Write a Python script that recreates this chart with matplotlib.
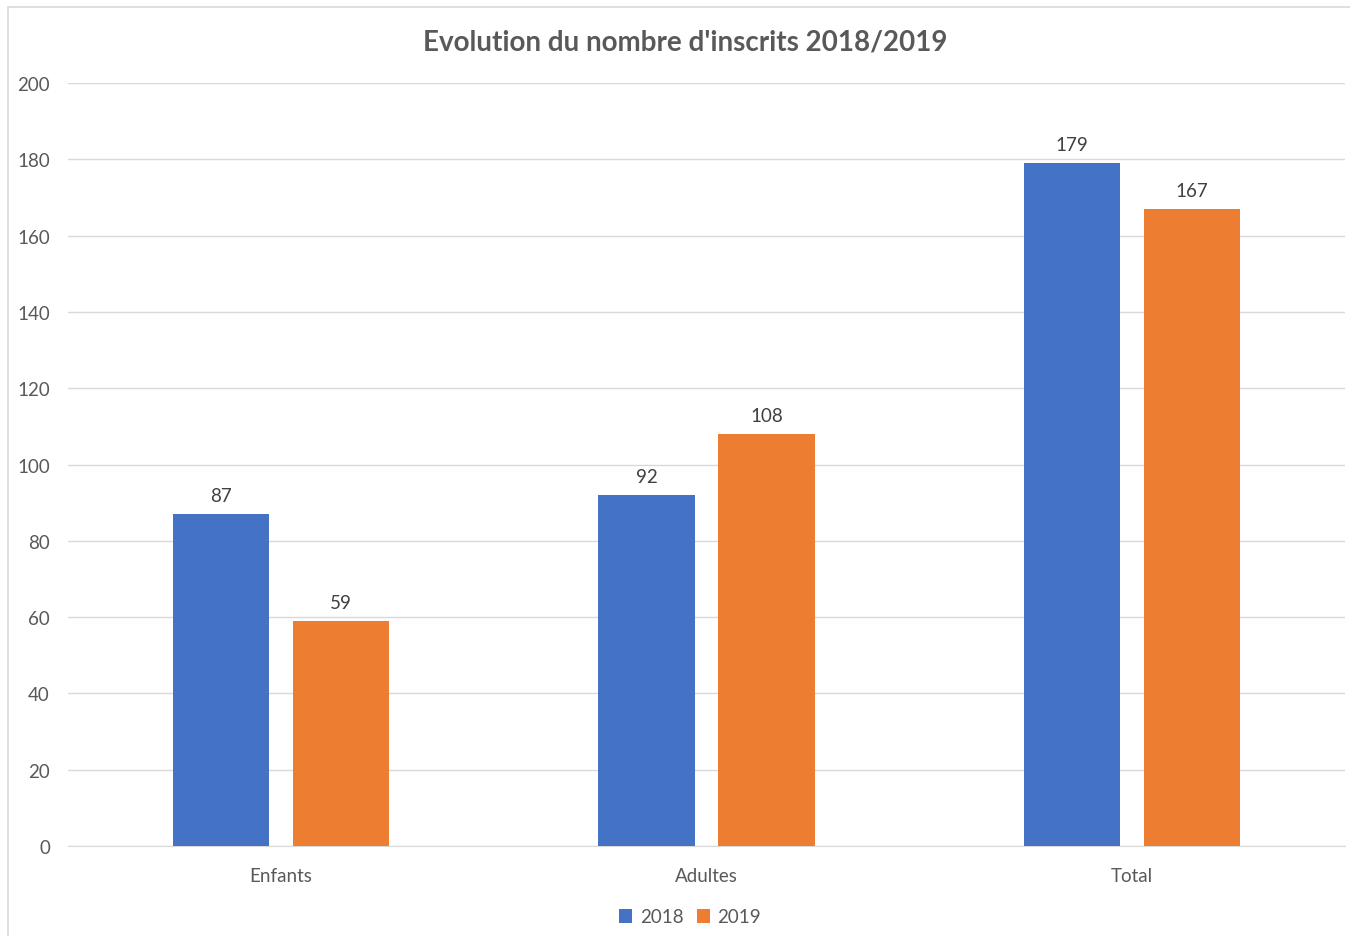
import matplotlib.pyplot as plt
import numpy as np
from matplotlib.patches import Rectangle

categories = ['Enfants', 'Adultes', 'Total']
series_names = ['2018', '2019']
values_2018 = [87, 92, 179]
values_2019 = [59, 108, 167]
y_ticks = [0, 20, 40, 60, 80, 100, 120, 140, 160, 180, 200]

blue = '#4472C4'
orange = '#ED7D31'
text_col = '#595959'

plt.rcParams['font.family'] = ['Lato', 'DejaVu Sans']

fig = plt.figure(figsize=(13.5, 9.37), dpi=100)
ax = fig.add_axes([68 / 1350, 1 - 847 / 937, (1345 - 68) / 1350, (847 - 84) / 937])

x = np.arange(len(categories))
off = 0.141
w = 0.226
b1 = ax.bar(x - off, values_2018, w, color=blue, label=series_names[0], zorder=3)
b2 = ax.bar(x + off, values_2019, w, color=orange, label=series_names[1], zorder=3)

for bars in (b1, b2):
    for r in bars:
        ax.annotate(f'{int(r.get_height())}', (r.get_x() + r.get_width() / 2, r.get_height()),
                    xytext=(0, 7), textcoords='offset points', ha='center', va='bottom',
                    fontsize=13.5, color='#404040')

ax.set_xlim(-0.5, 2.5)
ax.set_ylim(0, 200)
ax.set_yticks(y_ticks)
ax.set_xticks(x)
ax.set_xticklabels(categories)
ax.tick_params(axis='both', length=0, labelsize=13.5, labelcolor=text_col)
ax.tick_params(axis='y', pad=13)
ax.tick_params(axis='x', pad=15)
ax.grid(axis='y', color='#D9D9D9', linewidth=1, zorder=0)
for s in ['top', 'right', 'left']:
    ax.spines[s].set_visible(False)
ax.spines['bottom'].set_color('#D9D9D9')

fig.text(685 / 1350, 1 - 43 / 937, "Evolution du nombre d'inscrits 2018/2019",
         ha='center', va='center', fontsize=20, fontweight='bold', color=text_col)

fig.legend(loc='center', bbox_to_anchor=(690 / 1350, 1 - 918 / 937), ncol=2, frameon=False,
           fontsize=13.5, labelcolor=text_col, handlelength=0.7, handleheight=0.7,
           handletextpad=0.4, columnspacing=0.7)

# chart area border
fig.patches.append(Rectangle((8 / 1350, -0.01), 1.02, 1 - 8 / 937 + 0.01, transform=fig.transFigure,
                             fill=False, edgecolor='#D9D9D9', linewidth=1.2))

fig.savefig('out.png', dpi=100, facecolor='white')
